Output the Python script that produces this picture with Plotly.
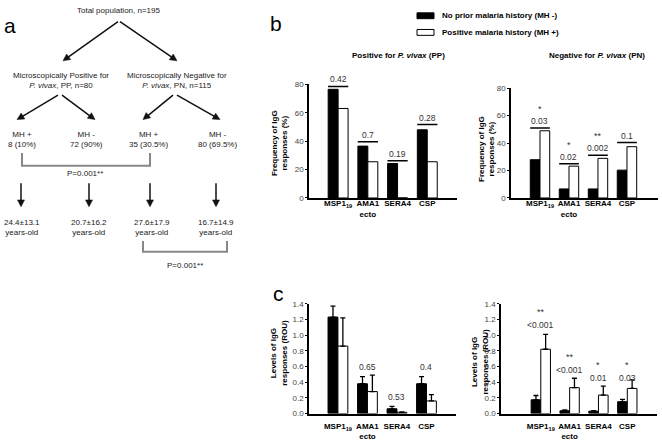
import math
import plotly.graph_objects as go

W, H = 662, 443

# ---------------- data ----------------
antigens = ["MSP1<sub>19</sub>", "AMA1<br>ecto", "SERA4", "CSP"]
series_names = ["No prior malaria history (MH -)", "Positive malaria history (MH +)"]

# panel b: frequency of IgG responses (%)
freq_pp_mhneg = [76.5, 36.5, 24.3, 48.0]
freq_pp_mhpos = [63.0, 25.5, 0.0, 25.5]
freq_pn_mhneg = [27.9, 6.6, 6.6, 20.3]
freq_pn_mhpos = [49.0, 23.2, 28.9, 37.4]
freq_pp_p = ["0.42", "0.7", "0.19", "0.28"]
freq_pn_p = ["0.03", "0.02", "0.002", "0.1"]
freq_pn_stars = ["*", "*", "**", ""]
freq_pp_line = [78.5, 39.5, 26.2, 51.7]
freq_pn_line = [51.0, 25.0, 31.2, 40.4]

# panel c: levels of IgG responses (ROU)
lvl_pp_mhneg = [1.23, 0.38, 0.06, 0.38]
lvl_pp_mhneg_err = [0.14, 0.09, 0.03, 0.09]
lvl_pp_mhpos = [0.86, 0.28, 0.015, 0.16]
lvl_pp_mhpos_err = [0.36, 0.21, 0.005, 0.08]
lvl_pn_mhneg = [0.175, 0.035, 0.03, 0.15]
lvl_pn_mhneg_err = [0.055, 0.01, 0.005, 0.03]
lvl_pn_mhpos = [0.82, 0.33, 0.235, 0.32]
lvl_pn_mhpos_err = [0.19, 0.12, 0.115, 0.11]
lvl_pp_p = ["0.35", "0.65", "0.53", "0.4"]
lvl_pp_p_y = [1.475, 0.59, 0.21, 0.59]
lvl_pn_p = ["<0.001", "<0.001", "0.01", "0.03"]
lvl_pn_p_y = [1.125, 0.56, 0.45, 0.45]
lvl_pn_stars = ["**", "**", "*", "*"]

# panel a: flow chart texts
flow_texts = [
    "Total population, n=195",
    "Microscopically Positive for<br><i>P. vivax</i>, PP, n=80",
    "Microscopically Negative for<br><i>P. vivax</i>, PN, n=115",
    "MH +<br>8 (10%)", "MH -<br>72 (90%)",
    "MH +<br>35 (30.5%)", "MH -<br>80 (69.5%)",
    "24.4±13.1<br>years-old", "20.7±16.2<br>years-old",
    "27.6±17.9<br>years-old", "16.7±14.9<br>years-old",
    "P=0.001**", "P=0.001**",
]

# ---------------- layout helpers ----------------
FONT = "Liberation Sans, Arial, sans-serif"
flow_pos = [(119, 7), (61, 78), (177, 78), (22, 138), (87, 138), (148, 138), (217, 138),
            (22, 228), (89, 228), (152, 228), (216, 228), (85, 173), (185, 267)]
flow_arrows = [((118, 18), (63, 58)), ((120, 18), (177, 58)),
               ((58, 93), (17, 118)), ((62, 93), (95, 118)),
               ((173, 93), (143, 118)), ((177, 93), (220, 118)),
               ((21, 183), (21, 207)), ((89, 183), (89, 207)),
               ((150, 183), (150, 207)), ((216, 183), (216, 207))]


def px(x):
    return x / W


def py(y):
    return 1 - y / H


def ptext(x, y, text, size=8, color="black", xanchor="center", **kw):
    return dict(xref="paper", yref="paper", x=px(x), y=py(y), text=text,
                showarrow=False, xanchor=xanchor, yanchor="middle",
                font=dict(size=size, color=color), **kw)


idx = list(range(len(antigens)))
fig = go.Figure()

panels = [
    ("x", "y", freq_pp_mhneg, freq_pp_mhpos, None, None),
    ("x2", "y2", freq_pn_mhneg, freq_pn_mhpos, None, None),
    ("x3", "y3", lvl_pp_mhneg, lvl_pp_mhpos, lvl_pp_mhneg_err, lvl_pp_mhpos_err),
    ("x4", "y4", lvl_pn_mhneg, lvl_pn_mhpos, lvl_pn_mhneg_err, lvl_pn_mhpos_err),
]
for k, (xa, ya, neg, pos, eneg, epos) in enumerate(panels):
    for vals, errs, fill, name in [(neg, eneg, "black", series_names[0]),
                                   (pos, epos, "white", series_names[1])]:
        kw = {}
        if errs is not None:
            kw["error_y"] = dict(type="data", symmetric=False, array=errs,
                                 arrayminus=[0] * len(errs), color="black",
                                 thickness=1.3, width=2.5)
        fig.add_trace(go.Bar(x=idx, y=vals, name=name, xaxis=xa, yaxis=ya,
                             marker=dict(color=fill, line=dict(color="black", width=1)),
                             showlegend=False, **kw))

annotations = []
shapes = []

# significance lines + p labels in panel b
for xa, ya, lines, plabs, stars in [("x", "y", freq_pp_line, freq_pp_p, None),
                                    ("x2", "y2", freq_pn_line, freq_pn_p, freq_pn_stars)]:
    for i in idx:
        shapes.append(dict(type="line", xref=xa, yref=ya, x0=i - 0.34, x1=i + 0.34,
                           y0=lines[i], y1=lines[i], line=dict(color="black", width=1.5)))
        annotations.append(dict(xref=xa, yref=ya, x=i, y=lines[i], text=plabs[i],
                                showarrow=False, xanchor="center", yanchor="bottom", yshift=0,
                                font=dict(size=8.5, color="#333")))
        if stars and stars[i]:
            annotations.append(dict(xref=xa, yref=ya, x=i, y=lines[i], text=stars[i],
                                    showarrow=False, xanchor="center", yanchor="bottom",
                                    yshift=12, font=dict(size=9, color="#333")))

# p labels in panel c
for i in idx:
    annotations.append(dict(xref="x3", yref="y3", x=i, y=lvl_pp_p_y[i], text=lvl_pp_p[i],
                            showarrow=False, xanchor="center", yanchor="middle",
                            font=dict(size=8.5, color="#333")))
    annotations.append(dict(xref="x4", yref="y4", x=i, y=lvl_pn_p_y[i], text=lvl_pn_p[i],
                            showarrow=False, xanchor="center", yanchor="middle",
                            font=dict(size=8.5, color="#333")))
    annotations.append(dict(xref="x4", yref="y4", x=i, y=lvl_pn_p_y[i], text=lvl_pn_stars[i],
                            showarrow=False, xanchor="center", yanchor="middle", yshift=13,
                            font=dict(size=9, color="#333")))

# panel titles
annotations.append(ptext(398, 53, "<b>Positive for <i>P. vivax</i> (PP)</b>"))
annotations.append(ptext(597, 53, "<b>Negative for <i>P. vivax</i> (PN)</b>"))
# y titles
for (x, y, t) in [(279, 142, "Frequency of IgG<br>responses (%)"),
                  (487, 148, "Frequency of IgG<br>responses (%)"),
                  (279, 356, "Levels of IgG<br>responses (ROU)"),
                  (480, 365, "Levels of IgG<br>responses (ROU)")]:
    annotations.append(ptext(x, y, "<b>" + t + "</b>", textangle=-90))
# panel letters
for (x, y, t) in [(10, 22, "a"), (276, 20, "b"), (278, 296, "c")]:
    annotations.append(ptext(x, y, t, size=21))

# legend (drawn manually: wide rectangles + bold labels)
legend_fill = ["black", "white"]
for j, (name, fill) in enumerate(zip(series_names, legend_fill)):
    yc = 12 + 17 * j
    shapes.append(dict(type="rect", xref="paper", yref="paper",
                       x0=px(417), x1=px(434), y0=py(yc - 3), y1=py(yc + 3),
                       fillcolor=fill, line=dict(color="black", width=1)))
    annotations.append(ptext(440, yc, "<b>" + name + "</b>", xanchor="left"))

# flow chart texts
for t, (x, y) in zip(flow_texts, flow_pos):
    annotations.append(ptext(x, y, t, color="#222", align="center"))

# flow chart arrows (line + filled triangular head)
HEAD_L, HEAD_W = 7.0, 3.5
for (tx, ty), (hx, hy) in flow_arrows:
    dx, dy = hx - tx, hy - ty
    n = math.hypot(dx, dy)
    ux, uy = dx / n, dy / n
    bx, by = hx - ux * HEAD_L, hy - uy * HEAD_L
    shapes.append(dict(type="line", xref="paper", yref="paper",
                       x0=px(tx), y0=py(ty), x1=px(bx + ux), y1=py(by + uy),
                       line=dict(color="#111", width=1.5)))
    pts = [(hx, hy), (bx - uy * HEAD_W, by + ux * HEAD_W), (bx + uy * HEAD_W, by - ux * HEAD_W)]
    d = "M " + " L ".join(f"{px(x)},{py(y)}" for x, y in pts) + " Z"
    shapes.append(dict(type="path", xref="paper", yref="paper", path=d,
                       fillcolor="#111", line=dict(color="#111", width=0.5)))

# flow chart comparison brackets
for path_pts in [[(22, 152), (22, 165), (150, 165), (150, 152)],
                 [(143, 242), (143, 253), (227, 253), (227, 242)]]:
    d = "M " + " L ".join(f"{px(x)},{py(y)}" for x, y in path_pts)
    shapes.append(dict(type="path", xref="paper", yref="paper", path=d,
                       line=dict(color="#888", width=2)))

xcommon = dict(showline=True, linecolor="black", linewidth=1.5, ticks="",
               tickvals=idx, ticktext=["<b>" + a + "</b>" for a in antigens],
               tickfont=dict(size=8, color="black"), showgrid=False, zeroline=False)
ycommon = dict(showline=True, linecolor="black", linewidth=1.5, ticks="outside",
               ticklen=2, tickwidth=1, tickcolor="black",
               tickfont=dict(size=8, color="#444"), showgrid=False, zeroline=False)

fig.update_layout(
    width=W, height=H, margin=dict(l=0, r=0, t=0, b=0),
    paper_bgcolor="white", plot_bgcolor="white",
    font=dict(family=FONT, size=8, color="black"),
    barmode="group", bargap=0.33, bargroupgap=0, showlegend=False,
    xaxis=dict(domain=[px(309), px(457)], range=[-0.98, 4.0], anchor="y",
               ticklabelstandoff=-3, **xcommon),
    yaxis=dict(domain=[py(198), py(82)], range=[0, 80], anchor="x",
               tickvals=[0, 20, 40, 60, 80], **ycommon),
    xaxis2=dict(domain=[px(511), px(658)], range=[-1.0, 4.07], anchor="y2",
                ticklabelstandoff=-3, **xcommon),
    yaxis2=dict(domain=[py(198), py(86)], range=[0, 80], anchor="x2",
                tickvals=[0, 20, 40, 60, 80], **ycommon),
    xaxis3=dict(domain=[px(309), px(456)], range=[-0.98, 4.0], anchor="y3",
                ticklabelstandoff=4, **xcommon),
    yaxis3=dict(domain=[py(418), py(306)], range=[0, 1.4], anchor="x3",
                tickvals=[0, 0.2, 0.4, 0.6, 0.8, 1.0, 1.2, 1.4], tickformat=".1f", **ycommon),
    xaxis4=dict(domain=[px(501), px(657)], range=[-1.38, 4.03], anchor="y4",
                ticklabelstandoff=4, **xcommon),
    yaxis4=dict(domain=[py(418), py(306)], range=[0, 1.4], anchor="x4",
                tickvals=[0, 0.2, 0.4, 0.6, 0.8, 1.0, 1.2, 1.4], tickformat=".1f", **ycommon),
    annotations=annotations, shapes=shapes,
)

fig.write_html("out.html", config={"displayModeBar": False},
               post_script="document.body.style.margin='0';")
